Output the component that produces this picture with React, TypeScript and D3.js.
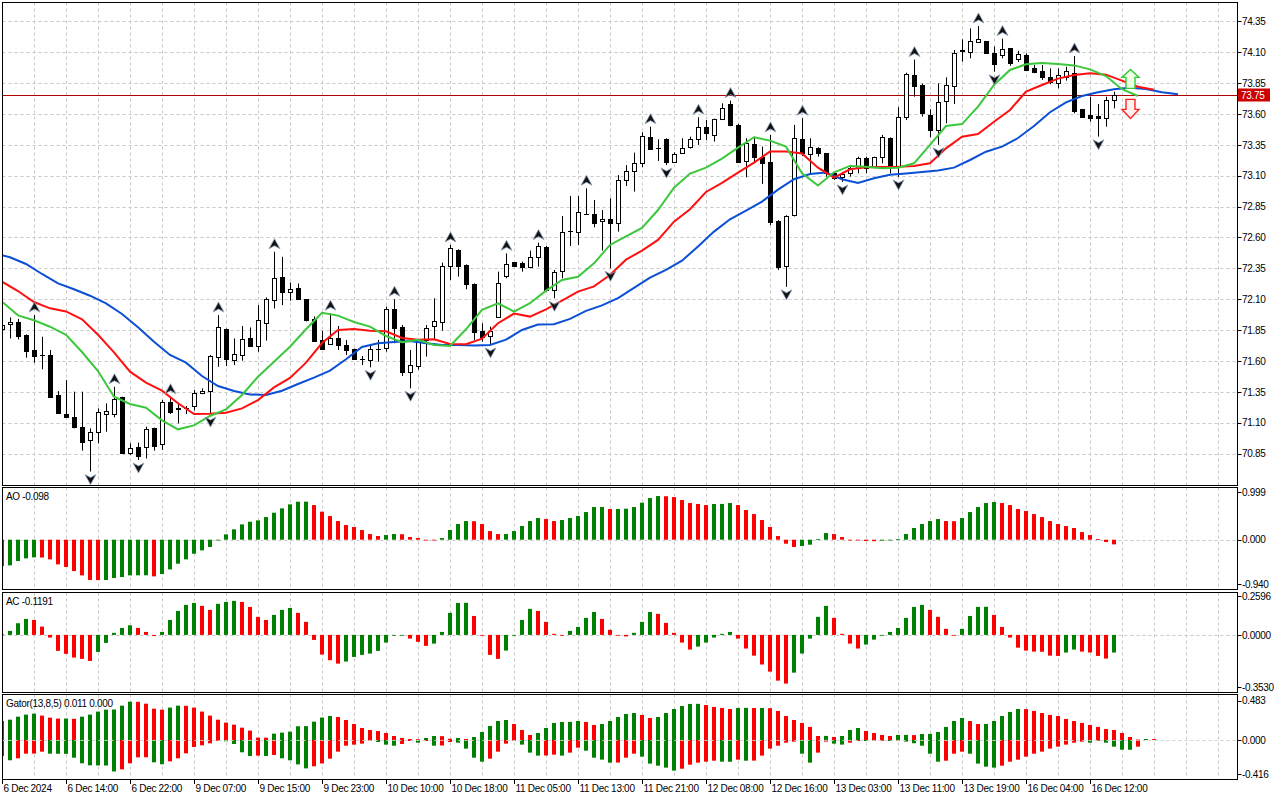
import React from 'react';
import * as d3 from 'd3';

// ---------- DATA ----------
const timeLabels = ["6 Dec 2024", "6 Dec 14:00", "6 Dec 22:00", "9 Dec 07:00", "9 Dec 15:00", "9 Dec 23:00", "10 Dec 10:00", "10 Dec 18:00", "11 Dec 05:00", "11 Dec 13:00", "11 Dec 21:00", "12 Dec 08:00", "12 Dec 16:00", "13 Dec 03:00", "13 Dec 11:00", "13 Dec 19:00", "16 Dec 04:00", "16 Dec 12:00"];
const priceTicks = [74.35, 74.10, 73.85, 73.60, 73.35, 73.10, 72.85, 72.60, 72.35, 72.10, 71.85, 71.60, 71.35, 71.10, 70.85];

const openP = [
  71.86, 71.896, 71.917, 71.81, 71.688, 71.648, 71.645, 71.324, 71.17, 71.143,
  71.065, 70.957, 71.022, 71.168, 71.17, 71.305, 70.852, 70.90, 70.90, 71.054,
  70.927, 71.265, 71.216, 71.22, 71.235, 71.337, 71.359, 71.634, 71.855, 71.607,
  71.648, 71.782, 71.72, 71.91, 72.093, 72.276, 72.155, 72.187, 72.098, 71.94,
  71.77, 71.735, 71.783, 71.727, 71.694, 71.613, 71.608, 71.694, 71.702, 72.018,
  71.878, 71.513, 71.562, 71.77, 71.886, 71.913, 72.372, 72.498, 72.377, 72.223,
  71.845, 71.80, 71.957, 72.288, 72.398, 72.39, 72.358, 72.439, 72.525, 72.175,
  72.328, 72.653, 72.647, 72.79, 72.787, 72.733, 72.747, 72.714, 73.065, 73.141,
  73.206, 73.416, 73.322, 73.397, 73.214, 73.281, 73.33, 73.395, 73.492, 73.43,
  73.562, 73.678, 73.51, 73.219, 73.357, 73.254, 73.214, 72.733, 72.372, 72.782,
  73.395, 73.276, 73.322, 73.281, 73.12, 73.09, 73.12, 73.16, 73.24, 73.168,
  73.254, 73.405, 73.17, 73.572, 73.915, 73.834, 73.592, 73.47, 73.707, 73.826,
  74.107, 74.099, 74.18, 74.19, 74.096, 74.077, 74.131, 74.045, 74.077, 73.969,
  73.95, 73.902, 73.853, 73.902, 73.934, 73.637, 73.591, 73.583, 73.564, 73.713,
];
const highP = [
  71.90, 71.952, 71.94, 71.815, 71.971, 71.796, 71.688, 71.356, 71.445, 71.351,
  71.351, 71.054, 71.216, 71.257, 71.391, 71.31, 70.933, 70.938, 71.068, 71.06,
  71.284, 71.31, 71.262, 71.235, 71.364, 71.378, 71.648, 71.971, 71.863, 71.782,
  71.882, 71.871, 72.052, 72.114, 72.484, 72.443, 72.235, 72.227, 72.10, 71.96,
  71.843, 71.986, 71.883, 71.77, 71.70, 71.64, 71.729, 71.77, 72.04, 72.10,
  71.891, 71.689, 71.775, 71.891, 72.107, 72.396, 72.539, 72.504, 72.382, 72.228,
  71.905, 71.878, 72.323, 72.471, 72.40, 72.404, 72.493, 72.558, 72.531, 72.336,
  72.774, 72.936, 72.936, 72.998, 72.903, 72.822, 72.917, 73.105, 73.186, 73.287,
  73.451, 73.497, 73.395, 73.403, 73.289, 73.403, 73.416, 73.573, 73.551, 73.562,
  73.686, 73.708, 73.52, 73.403, 73.416, 73.335, 73.43, 72.74, 72.78, 73.511,
  73.565, 73.403, 73.33, 73.281, 73.13, 73.13, 73.187, 73.254, 73.254, 73.254,
  73.43, 73.41, 73.655, 73.934, 74.04, 73.845, 73.637, 73.848, 73.896, 74.117,
  74.204, 74.293, 74.312, 74.19, 74.145, 74.21, 74.131, 74.112, 74.09, 73.996,
  73.996, 73.969, 73.969, 73.982, 74.069, 73.64, 73.74, 73.68, 73.74, 73.78,
];
const lowP = [
  71.85, 71.782, 71.774, 71.626, 71.585, 71.532, 71.31, 71.17, 71.14, 71.054,
  70.874, 70.704, 70.933, 71.027, 71.143, 70.852, 70.838, 70.798, 70.81, 70.874,
  70.879, 71.17, 71.095, 71.17, 71.2, 71.33, 71.17, 71.553, 71.558, 71.566,
  71.602, 71.715, 71.674, 71.764, 72.025, 72.052, 72.087, 72.093, 71.92, 71.76,
  71.689, 71.729, 71.689, 71.648, 71.608, 71.567, 71.548, 71.594, 71.675, 71.743,
  71.478, 71.378, 71.53, 71.635, 71.77, 71.845, 72.255, 72.282, 72.18, 71.77,
  71.756, 71.73, 71.949, 72.269, 72.364, 72.323, 72.35, 72.363, 72.161, 72.107,
  72.269, 72.531, 72.539, 72.782, 72.682, 72.493, 72.35, 72.647, 73.017, 72.971,
  73.168, 73.314, 73.219, 73.186, 73.205, 73.276, 73.32, 73.349, 73.389, 73.376,
  73.55, 73.50, 73.206, 73.087, 73.2, 73.033, 72.70, 72.337, 72.2, 72.77,
  73.26, 73.12, 73.254, 73.093, 73.066, 73.05, 73.093, 73.12, 73.12, 73.16,
  73.2, 73.119, 73.09, 73.55, 73.74, 73.578, 73.41, 73.35, 73.524, 73.68,
  74.023, 74.05, 74.175, 74.085, 73.942, 74.05, 73.99, 74.02, 73.95, 73.93,
  73.875, 73.84, 73.807, 73.87, 73.605, 73.57, 73.537, 73.416, 73.497, 73.645,
];
const closeP = [
  71.89, 71.917, 71.801, 71.683, 71.642, 71.646, 71.31, 71.176, 71.143, 71.065,
  70.941, 71.022, 71.184, 71.192, 71.294, 70.857, 70.892, 70.833, 71.049, 70.914,
  71.265, 71.184, 71.214, 71.222, 71.337, 71.359, 71.64, 71.877, 71.612, 71.653,
  71.777, 71.72, 71.931, 72.101, 72.268, 72.16, 72.179, 72.098, 71.931, 71.765,
  71.694, 71.783, 71.727, 71.689, 71.613, 71.615, 71.694, 71.697, 72.018, 71.864,
  71.513, 71.565, 71.77, 71.864, 71.926, 72.369, 72.512, 72.372, 72.22, 71.837,
  71.791, 71.845, 72.227, 72.388, 72.372, 72.364, 72.444, 72.531, 72.175, 72.323,
  72.647, 72.655, 72.809, 72.792, 72.72, 72.752, 72.72, 73.065, 73.141, 73.206,
  73.424, 73.316, 73.324, 73.214, 73.276, 73.327, 73.395, 73.492, 73.443, 73.562,
  73.651, 73.51, 73.214, 73.362, 73.254, 73.2, 72.728, 72.364, 72.774, 73.403,
  73.287, 73.33, 73.287, 73.12, 73.079, 73.11, 73.16, 73.24, 73.16, 73.254,
  73.411, 73.17, 73.572, 73.923, 73.829, 73.605, 73.466, 73.70, 73.834, 74.09,
  74.117, 74.193, 74.204, 74.096, 74.002, 74.128, 74.01, 74.085, 73.956, 73.942,
  73.902, 73.856, 73.915, 73.95, 73.626, 73.578, 73.564, 73.564, 73.713, 73.75,
];

// Alligator lines, one value every 2 bars
const lipsStart = 0;
const lipsValues = [
  72.080, 71.969, 71.929, 71.877, 71.812, 71.672, 71.518, 71.310, 71.251, 71.221,
  71.119, 71.046, 71.078, 71.154, 71.208, 71.324, 71.472, 71.594, 71.715, 71.856,
  71.990, 71.967, 71.915, 71.878, 71.802, 71.751, 71.772, 71.729, 71.721, 71.856,
  72.013, 72.067, 72.000, 72.067, 72.169, 72.255, 72.282, 72.390, 72.539, 72.608,
  72.677, 72.822, 73.003, 73.117, 73.165, 73.238, 73.327, 73.411, 73.384, 73.335,
  73.119, 73.020, 73.127, 73.179, 73.173, 73.160, 73.165, 73.200, 73.350, 73.502,
  73.518, 73.659, 73.834, 73.956, 74.002, 74.012, 74.004, 73.993, 73.961, 73.907,
  73.800, 73.745,
];
const teethStart = 0;
const teethValues = [
  72.242, 72.166, 72.077, 72.026, 72.001, 71.937, 71.812, 71.669, 71.513, 71.424,
  71.359, 71.257, 71.170, 71.173, 71.181, 71.216, 71.283, 71.386, 71.462, 71.586,
  71.745, 71.851, 71.859, 71.845, 71.840, 71.786, 71.772, 71.775, 71.737, 71.735,
  71.780, 71.905, 71.983, 71.959, 72.018, 72.088, 72.161, 72.204, 72.296, 72.420,
  72.493, 72.580, 72.728, 72.828, 72.968, 73.041, 73.125, 73.206, 73.295, 73.295,
  73.279, 73.165, 73.084, 73.152, 73.168, 73.171, 73.173, 73.179, 73.200, 73.321,
  73.416, 73.437, 73.537, 73.632, 73.780, 73.834, 73.886, 73.915, 73.929, 73.918,
  73.870, 73.820, 73.795,
];
const jawStart = -1;
const jawValues = [
  72.471, 72.439, 72.385, 72.304, 72.228, 72.180, 72.128, 72.066, 71.980, 71.872,
  71.756, 71.648, 71.586, 71.478, 71.397, 71.356, 71.329, 71.324, 71.359, 71.413,
  71.465, 71.522, 71.613, 71.713, 71.743, 71.754, 71.762, 71.743, 71.729, 71.729,
  71.724, 71.729, 71.772, 71.851, 71.894, 71.897, 71.940, 72.005, 72.050, 72.108,
  72.191, 72.275, 72.337, 72.412, 72.526, 72.647, 72.747, 72.817, 72.890, 72.987,
  73.071, 73.114, 73.125, 73.071, 73.041, 73.079, 73.107, 73.118, 73.130, 73.142,
  73.165, 73.227, 73.294, 73.335, 73.405, 73.502, 73.614, 73.694, 73.745, 73.775,
  73.799, 73.812, 73.802, 73.775, 73.759,
];

const fractalUpBars = [4, 14, 21, 27, 34, 41, 49, 56, 63, 67, 73, 81, 87, 91, 96, 100, 114, 122, 125, 134];
const fractalDownBars = [11, 17, 26, 46, 51, 61, 69, 76, 83, 98, 105, 112, 117, 124, 137];

// Awesome Oscillator, bars -1..139
const aoStart = -1;
const aoValues = [
  -0.56,
  -0.554, -0.540, -0.449, -0.393, -0.372, -0.375, -0.414, -0.519, -0.575, -0.660,
  -0.751, -0.849, -0.851, -0.849, -0.807, -0.786, -0.751, -0.750, -0.749, -0.772,
  -0.723, -0.625, -0.505, -0.414, -0.295, -0.225, -0.154, -0.007, 0.112, 0.218,
  0.323, 0.379, 0.407, 0.477, 0.568, 0.660, 0.744, 0.800, 0.801, 0.730,
  0.590, 0.498, 0.393, 0.309, 0.267, 0.204, 0.119, 0.077, 0.098, 0.119,
  0.115, 0.056, 0.035, -0.007, -0.010, 0.035, 0.204, 0.330, 0.393, 0.390,
  0.330, 0.182, 0.119, 0.121, 0.182, 0.288, 0.393, 0.456, 0.435, 0.393,
  0.414, 0.456, 0.498, 0.582, 0.688, 0.690, 0.646, 0.648, 0.653, 0.688,
  0.779, 0.877, 0.919, 0.915, 0.898, 0.835, 0.772, 0.751, 0.730, 0.751,
  0.753, 0.772, 0.730, 0.625, 0.540, 0.414, 0.267, 0.077, -0.084, -0.154,
  -0.133, -0.105, 0.014, 0.140, 0.119, 0.056, -0.005, -0.012, -0.028, -0.032,
  -0.021, -0.010, 0.014, 0.119, 0.246, 0.330, 0.393, 0.435, 0.393, 0.390,
  0.456, 0.582, 0.688, 0.772, 0.793, 0.772, 0.730, 0.646, 0.604, 0.540,
  0.477, 0.393, 0.330, 0.288, 0.246, 0.161, 0.098, 0.014, -0.049, -0.098,
];
const aoTicks = [0.999, 0, -0.940];

// Accelerator Oscillator, bars -1..139
const acStart = -1;
const acValues = [
  0.0,
  0.005, 0.027, 0.079, 0.108, 0.101, 0.056, -0.018, -0.108, -0.128, -0.153,
  -0.162, -0.176, -0.115, -0.054, 0.014, 0.047, 0.065, 0.047, 0.020, -0.007,
  0.020, 0.101, 0.162, 0.203, 0.216, 0.196, 0.169, 0.210, 0.223, 0.230,
  0.223, 0.189, 0.122, 0.101, 0.135, 0.169, 0.182, 0.149, 0.088, -0.034,
  -0.133, -0.171, -0.194, -0.180, -0.149, -0.135, -0.126, -0.108, -0.052, -0.005,
  -0.003, -0.025, -0.047, -0.074, -0.059, 0.020, 0.149, 0.216, 0.217, 0.128,
  -0.005, -0.135, -0.162, -0.106, -0.002, 0.101, 0.176, 0.162, 0.088, 0.007,
  -0.002, 0.027, 0.054, 0.115, 0.155, 0.108, 0.034, -0.002, -0.010, 0.014,
  0.088, 0.155, 0.142, 0.081, 0.014, -0.052, -0.099, -0.079, -0.052, -0.018,
  0.007, 0.020, -0.025, -0.092, -0.140, -0.200, -0.248, -0.309, -0.329, -0.255,
  -0.126, -0.025, 0.122, 0.196, 0.115, 0.007, -0.059, -0.092, -0.065, -0.032,
  -0.005, 0.020, 0.047, 0.115, 0.189, 0.203, 0.169, 0.122, 0.041, -0.005,
  0.041, 0.128, 0.189, 0.190, 0.135, 0.054, -0.018, -0.086, -0.106, -0.113,
  -0.114, -0.140, -0.142, -0.119, -0.099, -0.113, -0.119, -0.142, -0.160, -0.1191,
];
const acTicks = [0.2596, 0, -0.3530];

// Gator oscillator, upper bars -1..144, lower bars -1..142
const gatorUpperStart = -1;
const gatorUpper = [
  0.24,
  0.233, 0.249, 0.286, 0.311, 0.323, 0.299, 0.274, 0.262, 0.263, 0.260,
  0.286, 0.311, 0.348, 0.372, 0.374, 0.421, 0.470, 0.468, 0.445, 0.384,
  0.372, 0.397, 0.421, 0.419, 0.397, 0.348, 0.299, 0.249, 0.213, 0.188,
  0.151, 0.115, 0.029, 0.028, 0.078, 0.090, 0.102, 0.168, 0.170, 0.225,
  0.275, 0.294, 0.282, 0.245, 0.196, 0.147, 0.123, 0.110, 0.086, 0.049,
  0.025, 0.012, 0.008, 0.025, 0.049, 0.047, 0.015, 0.025, 0.012, 0.037,
  0.098, 0.172, 0.233, 0.245, 0.196, 0.123, 0.061, 0.086, 0.147, 0.209,
  0.221, 0.222, 0.233, 0.221, 0.184, 0.196, 0.233, 0.282, 0.319, 0.331,
  0.307, 0.270, 0.282, 0.331, 0.380, 0.417, 0.442, 0.443, 0.429, 0.405,
  0.393, 0.380, 0.393, 0.394, 0.392, 0.393, 0.390, 0.356, 0.294, 0.245,
  0.209, 0.160, 0.049, 0.050, 0.037, 0.049, 0.123, 0.147, 0.110, 0.086,
  0.061, 0.049, 0.061, 0.062, 0.060, 0.074, 0.075, 0.098, 0.160, 0.233,
  0.270, 0.233, 0.196, 0.197, 0.233, 0.294, 0.344, 0.380, 0.379, 0.356,
  0.331, 0.307, 0.294, 0.258, 0.233, 0.209, 0.184, 0.160, 0.135, 0.123,
  0.086, 0.037, 0.005, 0.012, 0.011,
];
const gatorLowerStart = -1;
const gatorLower = [
  -0.19,
  -0.196, -0.249, -0.225, -0.168, -0.167, -0.143, -0.168, -0.169, -0.170, -0.217,
  -0.286, -0.311, -0.312, -0.313, -0.386, -0.360, -0.286, -0.213, -0.212, -0.274,
  -0.298, -0.262, -0.225, -0.164, -0.086, -0.065, -0.041, -0.008, -0.016, -0.049,
  -0.151, -0.196, -0.192, -0.196, -0.184, -0.225, -0.249, -0.299, -0.348, -0.323,
  -0.288, -0.229, -0.143, -0.070, -0.057, -0.045, -0.012, -0.025, -0.057, -0.070,
  -0.049, -0.012, -0.033, -0.012, -0.070, -0.068, -0.025, -0.033, -0.106, -0.217,
  -0.266, -0.229, -0.143, -0.045, -0.012, -0.057, -0.155, -0.192, -0.190, -0.180,
  -0.192, -0.155, -0.094, -0.131, -0.217, -0.241, -0.278, -0.277, -0.217, -0.168,
  -0.204, -0.290, -0.315, -0.339, -0.376, -0.352, -0.303, -0.278, -0.266, -0.254,
  -0.266, -0.267, -0.241, -0.254, -0.253, -0.192, -0.106, -0.070, -0.033, -0.020,
  -0.168, -0.278, -0.155, -0.020, -0.045, -0.057, -0.033, -0.012, -0.013, -0.008,
  -0.005, -0.012, -0.008, -0.020, -0.040, -0.070, -0.168, -0.266, -0.254, -0.168,
  -0.143, -0.168, -0.290, -0.327, -0.339, -0.315, -0.266, -0.241, -0.204, -0.168,
  -0.143, -0.106, -0.082, -0.057, -0.033, -0.020, -0.033, -0.008, -0.033, -0.082,
  -0.119, -0.120, -0.082,
];
const gatorTicks = [0.483, 0, -0.416];
const currentPrice = 73.75;
const signalBar = 141;

// ---------- LAYOUT ----------
const LEFT = 2.5;
const RIGHT = 1237.5;
const FONT = "'Liberation Sans', Arial, sans-serif";
const FS = 10;
const LS = -0.3;
const GREEN = '#008000';
const RED = '#ff0000';
const GRID = '#c8c8c8';

const panes = {
  main: { top: 2.5, bottom: 485.5 },
  ao: { top: 487.5, bottom: 589.5 },
  ac: { top: 592.5, bottom: 692.5 },
  gator: { top: 694.5, bottom: 779.5 },
};

export default function App() {
  const x = d3.scaleLinear().domain([0, 153.75]).range([2, 1232]);
  const yMain = d3.scaleLinear().domain([70.85, 74.35]).range([453.55, 21.3]);
  const yAO = d3.scaleLinear().domain([-0.94, 0.999]).range([584.35, 492.25]);
  const yAC = d3.scaleLinear().domain([-0.353, 0.2596]).range([687.14, 596.48]);
  const yG = d3.scaleLinear().domain([-0.416, 0.483]).range([773.9, 700.6]);

  const gridBars: number[] = [];
  for (let b = 4; x(b) < RIGHT - 2; b += 4) gridBars.push(b);

  const vGrid = (pane: { top: number; bottom: number }, key: string) =>
    gridBars.map((b) => (
      <line key={key + b} x1={x(b) + 0.5} x2={x(b) + 0.5} y1={pane.top} y2={pane.bottom}
        stroke={GRID} strokeDasharray="3,3" />
    ));

  const mkLine = (start: number, vals: number[]) =>
    d3.line<number>().x((_, j) => x(start + j * 2)).y((v) => yMain(v))(vals) || '';

  const histogram = (start: number, vals: number[], yS: d3.ScaleLinear<number, number>, useAbs: boolean, key: string) =>
    vals.map((v, j) => {
      if (j === 0) return null;
      const b = start + j;
      const prev = vals[j - 1];
      const rising = useAbs ? Math.abs(v) > Math.abs(prev) : v > prev;
      const y0 = yS(0);
      const yv = yS(v);
      const top = Math.min(y0, yv);
      const h = Math.max(0.8, Math.abs(yv - y0));
      return <rect key={key + b} x={x(b) - 2} y={top} width={4} height={h} fill={rising ? GREEN : RED} />;
    });

  const yCur = yMain(currentPrice);
  const sx = x(signalBar) + 0.5;

  const upFr = 'M0,-5 L5.5,5 L0,2 L-5.5,5 Z';
  const downFr = 'M0,5 L5.5,-5 L0,-2 L-5.5,-5 Z';

  const axisLabel = (v: number, yS: d3.ScaleLinear<number, number>, digits: number, key: string) => (
    <g key={key}>
      <line x1={RIGHT} x2={RIGHT + 4} y1={Math.round(yS(v)) + 0.5} y2={Math.round(yS(v)) + 0.5} stroke="#000" />
      <text x={1242} y={yS(v) + 3.7} fontSize={FS} letterSpacing={LS} fontFamily={FONT} fill="#000">{v.toFixed(digits)}</text>
    </g>
  );

  return (
    <div style={{ position: 'absolute', left: 0, top: 0 }}>
      <svg width={1280} height={800} style={{ display: 'block', background: '#fff' }}>
        <defs>
          <clipPath id="clipMain"><rect x={3} y={3} width={1234} height={482} /></clipPath>
          <clipPath id="clipAO"><rect x={3} y={488} width={1234} height={101} /></clipPath>
          <clipPath id="clipAC"><rect x={3} y={593} width={1234} height={99} /></clipPath>
          <clipPath id="clipG"><rect x={3} y={695} width={1234} height={84} /></clipPath>
        </defs>
        <rect x={0} y={0} width={1280} height={800} fill="#fff" />

        {/* grids */}
        {vGrid(panes.main, 'gm')}
        {vGrid(panes.ao, 'ga')}
        {vGrid(panes.ac, 'gc')}
        {vGrid(panes.gator, 'gg')}
        {priceTicks.map((p) => (
          <line key={'hp' + p} x1={LEFT} x2={RIGHT} y1={Math.round(yMain(p)) + 0.5} y2={Math.round(yMain(p)) + 0.5}
            stroke={GRID} strokeDasharray="3,3" />
        ))}
        <line x1={LEFT} x2={RIGHT} y1={Math.round(yAO(0)) + 0.5} y2={Math.round(yAO(0)) + 0.5} stroke={GRID} strokeDasharray="3,3" />
        <line x1={LEFT} x2={RIGHT} y1={Math.round(yAC(0)) + 0.5} y2={Math.round(yAC(0)) + 0.5} stroke={GRID} strokeDasharray="3,3" />

        {/* main pane */}
        <g clipPath="url(#clipMain)">
          <line x1={LEFT} x2={RIGHT} y1={Math.round(yCur) + 0.5} y2={Math.round(yCur) + 0.5} stroke="#b00000" strokeWidth={1} />
          {openP.map((o, i) => {
            const c = closeP[i];
            const cx = Math.round(x(i));
            const yO = Math.round(yMain(o));
            const yC = Math.round(yMain(c));
            const top = Math.min(yO, yC);
            const h = Math.abs(yO - yC);
            const bull = c >= o;
            return (
              <g key={'c' + i}>
                <line x1={cx + 0.5} x2={cx + 0.5} y1={yMain(highP[i])} y2={yMain(lowP[i])} stroke="#000" />
                {h >= 1 ? (
                  <rect x={cx - 1.5} y={top + 0.5} width={4} height={h} fill={bull ? '#fff' : '#000'} stroke="#000" />
                ) : (
                  <line x1={cx - 2} x2={cx + 3} y1={top + 0.5} y2={top + 0.5} stroke="#000" />
                )}
              </g>
            );
          })}
          <path d={mkLine(jawStart, jawValues)} fill="none" stroke="#0a4fd6" strokeWidth={2} />
          <path d={mkLine(teethStart, teethValues)} fill="none" stroke="#ff1010" strokeWidth={2} />
          <path d={mkLine(lipsStart, lipsValues)} fill="none" stroke="#3cc83c" strokeWidth={2} />
          {fractalUpBars.map((b) => (
            <path key={'fu' + b} d={upFr} transform={`translate(${x(b) + 0.5},${yMain(highP[b]) - 8})`}
              fill="#111" stroke="#8fa3c0" strokeWidth={0.8} />
          ))}
          {fractalDownBars.map((b) => (
            <path key={'fd' + b} d={downFr} transform={`translate(${x(b) + 0.5},${yMain(lowP[b]) + 8})`}
              fill="#111" stroke="#8fa3c0" strokeWidth={0.8} />
          ))}
          <polygon
            points={`${sx},${yCur - 26} ${sx + 8.5},${yCur - 18} ${sx + 4.5},${yCur - 18} ${sx + 4.5},${yCur - 7} ${sx - 4.5},${yCur - 7} ${sx - 4.5},${yCur - 18} ${sx - 8.5},${yCur - 18}`}
            fill="#f2ffe8" stroke="#33cc33" strokeWidth={1.4} />
          <polygon
            points={`${sx - 4.5},${yCur + 4} ${sx + 4.5},${yCur + 4} ${sx + 4.5},${yCur + 14} ${sx + 8.5},${yCur + 14} ${sx},${yCur + 23} ${sx - 8.5},${yCur + 14} ${sx - 4.5},${yCur + 14}`}
            fill="#fff0f0" stroke="#ff2020" strokeWidth={1.4} />
        </g>

        {/* AO */}
        <g clipPath="url(#clipAO)">{histogram(aoStart, aoValues, yAO, false, 'ao')}</g>
        {/* AC */}
        <g clipPath="url(#clipAC)">{histogram(acStart, acValues, yAC, false, 'ac')}</g>
        {/* Gator */}
        <g clipPath="url(#clipG)">
          {histogram(gatorUpperStart, gatorUpper, yG, true, 'gu')}
          {histogram(gatorLowerStart, gatorLower, yG, true, 'gl')}
        </g>
        <line x1={LEFT} x2={RIGHT} y1={Math.round(yG(0)) + 0.5} y2={Math.round(yG(0)) + 0.5} stroke="#d0d0d0" strokeDasharray="3,3" />

        {/* pane borders */}
        {Object.entries(panes).map(([k, p]) => (
          <rect key={'b' + k} x={LEFT} y={p.top} width={RIGHT - LEFT} height={p.bottom - p.top} fill="none" stroke="#000" />
        ))}

        {/* price axis */}
        {priceTicks.map((p) => axisLabel(p, yMain, 2, 'pt' + p))}
        <rect x={1238} y={Math.round(yCur) - 6.5} width={32} height={13} fill="#cc0000" />
        <text x={1241} y={yCur + 3.7} fontSize={FS} letterSpacing={LS} fontFamily={FONT} fill="#fff">{currentPrice.toFixed(2)}</text>
        {aoTicks.map((v) => axisLabel(v, yAO, 3, 'at' + v))}
        {acTicks.map((v) => axisLabel(v, yAC, 4, 'ct' + v))}
        {gatorTicks.map((v) => axisLabel(v, yG, 3, 'gt' + v))}

        {/* pane titles */}
        <text x={6} y={500} fontSize={FS} letterSpacing={LS} fontFamily={FONT} fill="#000">{`AO ${aoValues[aoValues.length - 1].toFixed(3)}`}</text>
        <text x={6} y={605} fontSize={FS} letterSpacing={LS} fontFamily={FONT} fill="#000">{`AC ${acValues[acValues.length - 1].toFixed(4)}`}</text>
        <text x={6} y={707} fontSize={FS} letterSpacing={LS} fontFamily={FONT} fill="#000">{`Gator(13,8,5) ${gatorUpper[gatorUpper.length - 1].toFixed(3)} 0.000`}</text>

        {/* time axis */}
        {timeLabels.map((t, k) => {
          const tx = Math.round(x(k * 8)) + 0.5;
          return (
            <g key={'t' + k}>
              <line x1={tx} x2={tx} y1={779.5} y2={784} stroke="#000" />
              <text x={tx + 1} y={792} fontSize={FS} letterSpacing={LS} fontFamily={FONT} fill="#000">{t}</text>
            </g>
          );
        })}
      </svg>
    </div>
  );
}
